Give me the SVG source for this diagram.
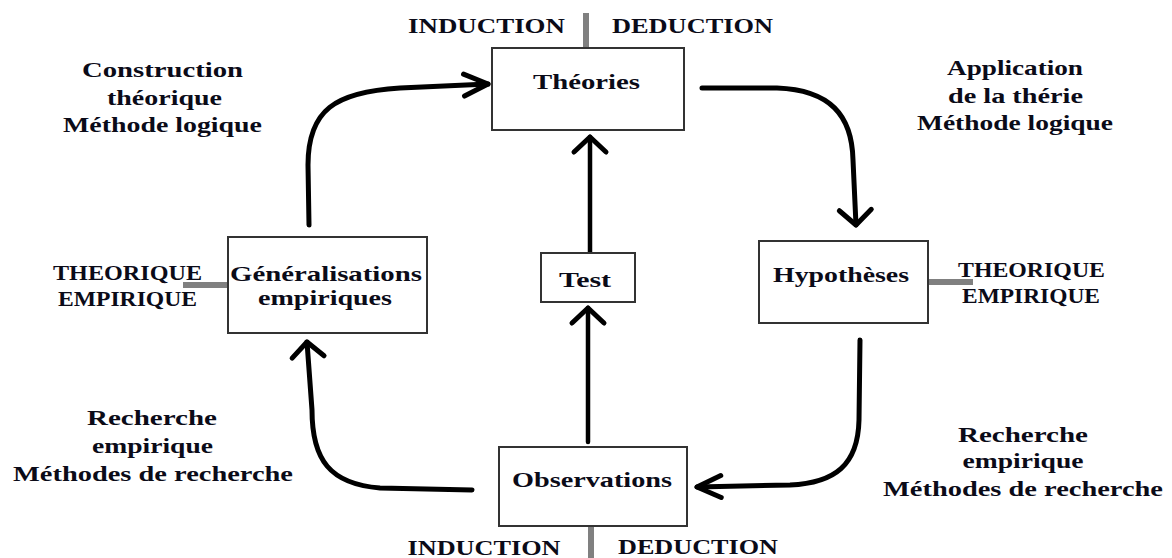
<svg xmlns="http://www.w3.org/2000/svg" width="1172" height="558" viewBox="0 0 1172 558">
<style>
text{font-family:"Liberation Serif","Times New Roman",serif;font-weight:bold;font-size:22px;fill:#0b0b18;text-anchor:middle}
.box{fill:#fff;stroke:#333;stroke-width:2}
.bar{stroke:#808080;stroke-width:6;fill:none}
.conn{fill:none;stroke:#000;stroke-width:5;stroke-linecap:round;stroke-linejoin:round}
.v{stroke-width:4.5}
</style>
<defs>
<marker id="hw" markerUnits="userSpaceOnUse" markerWidth="40" markerHeight="40" viewBox="0 0 40 40" refX="30" refY="20" orient="auto">
<path d="M15,4 L30,20 L15,36" fill="none" stroke="#000" stroke-width="5" stroke-linecap="round" stroke-linejoin="round"/>
</marker>
<marker id="hn" markerUnits="userSpaceOnUse" markerWidth="40" markerHeight="40" viewBox="0 0 40 40" refX="30" refY="20" orient="auto">
<path d="M6,9 L30,20 L6,31" fill="none" stroke="#000" stroke-width="5" stroke-linecap="round" stroke-linejoin="round"/>
</marker>
</defs>
<rect width="1172" height="558" fill="#fff"/>

<g id="connectors">
<path class="conn" d="M309,225 L308,165 C308,110 335,92 400,88 L488,84" marker-end="url(#hn)"/>
<path class="conn" d="M702,88 L777,88 C830,90 852,115 853,160 L856,225" marker-end="url(#hw)"/>
<path class="conn v" d="M590,253 L590,137" marker-end="url(#hw)"/>
<path class="conn v" d="M588,442 L588,308" marker-end="url(#hw)"/>
<path class="conn" d="M472,490 L380,488 C330,484 312,460 312,410 L307,342" marker-end="url(#hw)"/>
<path class="conn" d="M860,340 L859,420 C858,465 835,483 790,485 L697,487" marker-end="url(#hn)"/>
<line class="bar" x1="586" y1="13" x2="586" y2="48"/>
<line class="bar" x1="591" y1="526" x2="591" y2="558"/>
<line class="bar" x1="183" y1="285" x2="228" y2="285"/>
<line class="bar" x1="928" y1="282" x2="973" y2="282"/>
</g>

<g id="theories">
<rect class="box" x="492" y="48" width="192" height="82"/>
<text x="586.5" y="89" textLength="107" lengthAdjust="spacingAndGlyphs">Théories</text>
</g>
<g id="generalisations">
<rect class="box" x="228" y="237" width="199" height="96"/>
<text x="326" y="281" textLength="192" lengthAdjust="spacingAndGlyphs">Généralisations</text>
<text x="325" y="305" textLength="134" lengthAdjust="spacingAndGlyphs">empiriques</text>
</g>
<g id="test">
<rect class="box" x="541" y="253" width="94" height="49"/>
<text x="585" y="287" textLength="52" lengthAdjust="spacingAndGlyphs">Test</text>
</g>
<g id="hypotheses">
<rect class="box" x="759" y="241" width="169" height="82"/>
<text x="841" y="282" textLength="136" lengthAdjust="spacingAndGlyphs">Hypothèses</text>
</g>
<g id="observations">
<rect class="box" x="499" y="447" width="188" height="79"/>
<text x="592" y="487" textLength="160" lengthAdjust="spacingAndGlyphs">Observations</text>
</g>

<g id="labels">
<text x="486.5" y="33" textLength="157" lengthAdjust="spacingAndGlyphs">INDUCTION</text>
<text x="692.5" y="33" textLength="161" lengthAdjust="spacingAndGlyphs">DEDUCTION</text>
<text x="484" y="555" textLength="153" lengthAdjust="spacingAndGlyphs">INDUCTION</text>
<text x="698" y="554" textLength="160" lengthAdjust="spacingAndGlyphs">DEDUCTION</text>

<text x="162.5" y="77" textLength="161" lengthAdjust="spacingAndGlyphs">Construction</text>
<text x="164.5" y="105" textLength="115" lengthAdjust="spacingAndGlyphs">théorique</text>
<text x="162.5" y="132" textLength="199" lengthAdjust="spacingAndGlyphs">Méthode logique</text>

<text x="1015" y="75" textLength="136" lengthAdjust="spacingAndGlyphs">Application</text>
<text x="1015.5" y="103" textLength="135" lengthAdjust="spacingAndGlyphs">de la thérie</text>
<text x="1015" y="130" textLength="196" lengthAdjust="spacingAndGlyphs">Méthode logique</text>

<text x="127.5" y="280" textLength="149" lengthAdjust="spacingAndGlyphs">THEORIQUE</text>
<text x="127.5" y="306" textLength="139" lengthAdjust="spacingAndGlyphs">EMPIRIQUE</text>
<text x="1031.5" y="277" textLength="147" lengthAdjust="spacingAndGlyphs">THEORIQUE</text>
<text x="1031" y="303" textLength="138" lengthAdjust="spacingAndGlyphs">EMPIRIQUE</text>

<text x="152" y="425" textLength="130" lengthAdjust="spacingAndGlyphs">Recherche</text>
<text x="152.5" y="453" textLength="121" lengthAdjust="spacingAndGlyphs">empirique</text>
<text x="153" y="481" textLength="280" lengthAdjust="spacingAndGlyphs">Méthodes de recherche</text>

<text x="1023" y="442" textLength="130" lengthAdjust="spacingAndGlyphs">Recherche</text>
<text x="1023" y="468" textLength="121" lengthAdjust="spacingAndGlyphs">empirique</text>
<text x="1023" y="496" textLength="280" lengthAdjust="spacingAndGlyphs">Méthodes de recherche</text>
</g>
</svg>
